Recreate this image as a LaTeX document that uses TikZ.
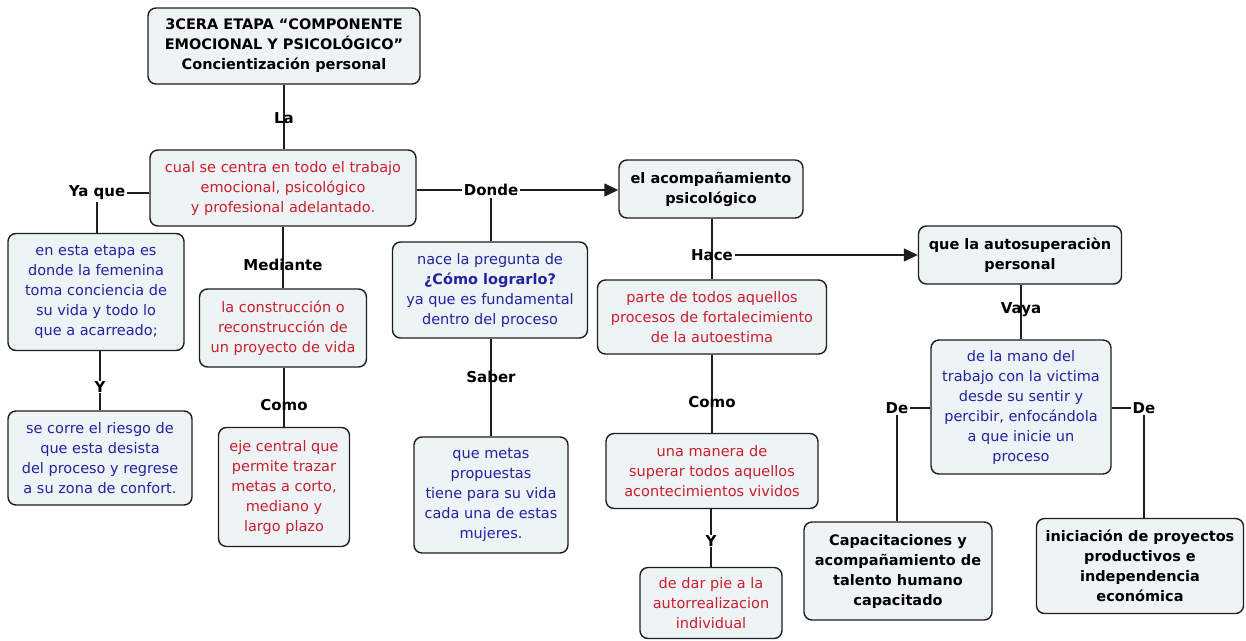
\documentclass[tikz,border=0pt]{standalone}
\usepackage{fontspec}
\setmainfont{DejaVu Sans}
\usetikzlibrary{arrows.meta,backgrounds}
\definecolor{boxfill}{HTML}{EEF3F5}
\definecolor{tred}{HTML}{C8202E}
\definecolor{tblue}{HTML}{2323A0}
\definecolor{edgec}{HTML}{1E1E1E}
\tikzset{
 box/.style={draw=edgec, line width=1.4pt, rounded corners=8pt, fill=boxfill, align=center, inner sep=3pt, font=\fontsize{14.5}{20}\selectfont},
 rb/.style={box,text=tred},
 bb/.style={box,text=tblue},
 kb/.style={box,text=black,font=\fontsize{14.5}{20}\selectfont\bfseries},
 lbl/.style={font=\fontsize{15}{20}\selectfont\bfseries, inner sep=1.5pt},
 con/.style={draw=edgec, line width=1.3pt},
 arr/.style={con, -{Triangle[length=14pt,width=13pt]}},
}
\begin{document}
\begin{tikzpicture}[x=1pt,y=-1pt]
\useasboundingbox (0,0) rectangle (1246,640);
% boxes
\node[kb, minimum width=272, minimum height=76] (top) at (284,46) {3CERA ETAPA “COMPONENTE\\EMOCIONAL Y PSICOLÓGICO”\\Concientización personal};
\node[rb, minimum width=266, minimum height=76] (cual) at (283,188) {cual se centra en todo el trabajo\\emocional, psicológico\\y profesional adelantado.};
\node[bb, minimum width=176, minimum height=117] (enesta) at (96,292) {en esta etapa es\\donde la femenina\\toma conciencia de\\su vida y todo lo\\que a acarreado;};
\node[bb, minimum width=184, minimum height=94] (secorre) at (100,458) {se corre el riesgo de\\que esta desista\\del proceso y regrese\\a su zona de confort.};
\node[rb, minimum width=167, minimum height=78] (constr) at (283,328) {la construcción o\\reconstrucción de\\un proyecto de vida};
\node[rb, minimum width=131, minimum height=119] (eje) at (284,487) {eje central que\\permite trazar\\metas a corto,\\mediano y\\largo plazo};
\node[bb, minimum width=195, minimum height=96] (nace) at (490,290) {nace la pregunta de\\\textbf{¿Cómo lograrlo?}\\ya que es fundamental\\dentro del proceso};
\node[bb, minimum width=154, minimum height=116] (metas) at (491,495) {que metas\\propuestas\\tiene para su vida\\cada una de estas\\mujeres.};
\node[kb, minimum width=184, minimum height=58] (acomp) at (711,189) {el acompañamiento\\psicológico};
\node[rb, minimum width=229, minimum height=74] (parte) at (712,317) {parte de todos aquellos\\procesos de fortalecimiento\\de la autoestima};
\node[rb, minimum width=212, minimum height=75] (manera) at (712,471) {una manera de\\superar todos aquellos\\acontecimientos vividos};
\node[rb, minimum width=142, minimum height=71] (darpie) at (711,603) {de dar pie a la\\autorrealizacion\\individual};
\node[kb, minimum width=203, minimum height=58] (autosup) at (1020,255) {que la autosuperaciòn\\personal};
\node[bb, minimum width=180, minimum height=134] (mano) at (1021,407) {de la mano del\\trabajo con la victima\\desde su sentir y\\percibir, enfocándola\\a que inicie un\\proceso};
\node[kb, minimum width=188, minimum height=98] (capac) at (898,571) {Capacitaciones y\\acompañamiento de\\talento humano\\capacitado};
\node[kb, minimum width=207, minimum height=95] (inic) at (1140,566) {iniciación de proyectos\\productivos e\\independencia\\económica};
% labels
\node[lbl] (la) at (284,118) {La};
\node[lbl] (yaque) at (97,193) {Ya que};
\node[lbl, inner sep=0.5pt] (y1) at (100,387) {Y};
\node[lbl] (mediante) at (283,265) {Mediante};
\node[lbl] (como1) at (284,405) {Como};
\node[lbl] (donde) at (491,190) {Donde};
\node[lbl] (saber) at (491,377) {Saber};
\node[lbl] (hace) at (712,255) {Hace};
\node[lbl] (como2) at (712,402) {Como};
\node[lbl, inner sep=0.5pt] (y2) at (711,541) {Y};
\node[lbl] (vaya) at (1021,310) {Vaya};
\node[lbl] (del) at (897,408) {De};
\node[lbl] (der) at (1144,408) {De};
% connectors
\begin{pgfonlayer}{background}
\draw[con] (top.south -| la) -- (la.center) -- (la |- cual.north);
\draw[con] (cual.west |- yaque) -- (yaque.east);
\draw[con] (yaque.south) -- (yaque.south |- enesta.north);
\draw[con] (enesta.south -| y1) -- (y1.north);
\draw[con] (y1.south) -- (y1 |- secorre.north);
\draw[con] (cual.south -| mediante) -- (mediante.center) -- (mediante |- constr.north);
\draw[con] (constr.south -| como1) -- (como1.center) -- (como1 |- eje.north);
\draw[con] (cual.east |- donde) -- (donde.west);
\draw[con] (donde.south) -- (donde.south |- nace.north);
\draw[con] (nace.south -| saber) -- (saber.center) -- (saber |- metas.north);
\draw[con] (acomp.south -| hace) -- (hace.center) -- (hace |- parte.north);
\draw[con] (parte.south -| como2) -- (como2.center) -- (como2 |- manera.north);
\draw[con] (manera.south -| y2) -- (y2.north);
\draw[con] (y2.south) -- (y2 |- darpie.north);
\draw[con] (autosup.south -| vaya) -- (vaya.center) -- (vaya |- mano.north);
\draw[con] (mano.west |- del) -- (del.east);
\draw[con] (del.south) -- (del.south |- capac.north);
\draw[con] (mano.east |- der) -- (der.west);
\draw[con] (der.south) -- (der.south |- inic.north);
\end{pgfonlayer}
\draw[arr] (donde.east) -- (acomp.west |- donde);
\draw[arr] (hace.east) -- (autosup.west |- hace);
\end{tikzpicture}
\end{document}
